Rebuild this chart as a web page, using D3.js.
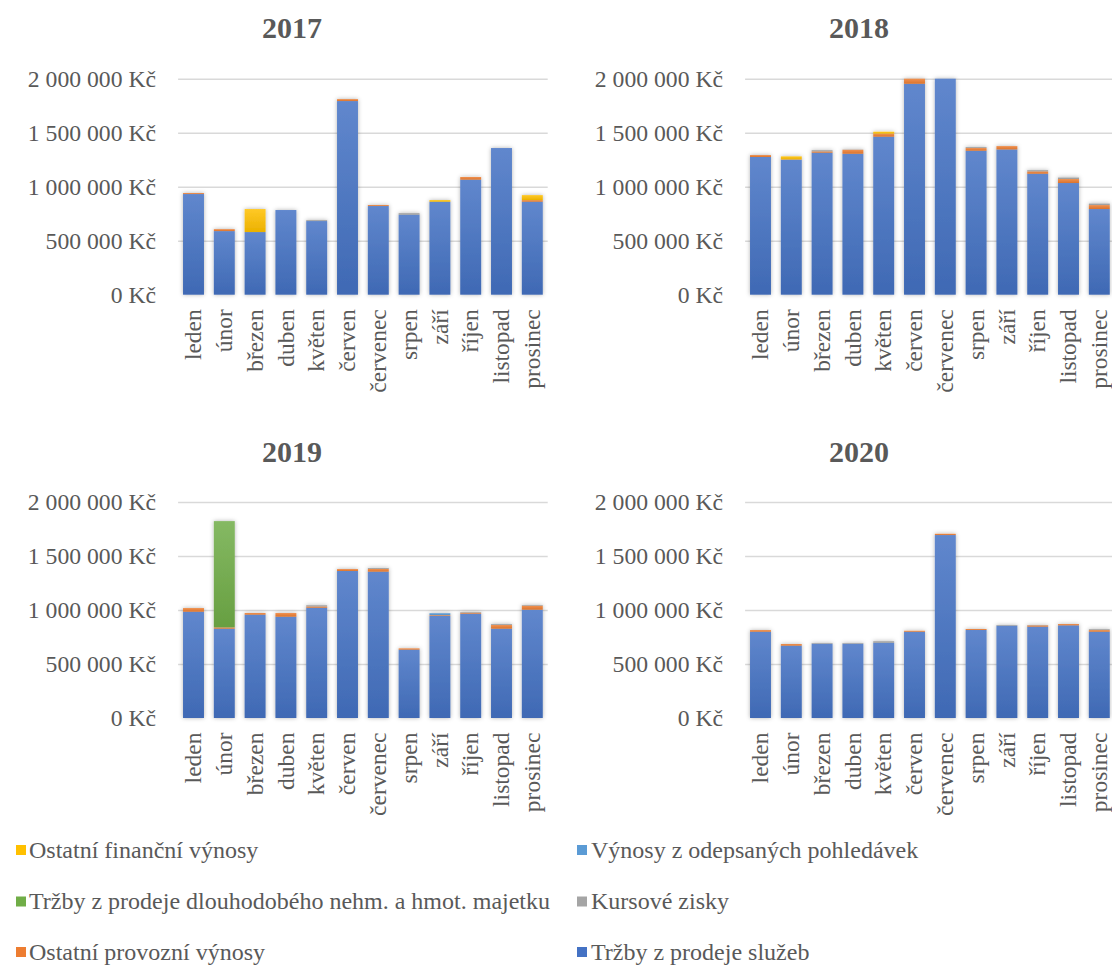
<!DOCTYPE html>
<html><head><meta charset="utf-8">
<script src="https://cdn.jsdelivr.net/npm/d3@7"></script>
<style>
html,body{margin:0;padding:0;background:#fff;overflow:hidden;}
</style></head>
<body><svg id="c" width="1112" height="965"></svg>
<script>
const months = ["leden","únor","březen","duben","květen","červen","červenec","srpen","září","říjen","listopad","prosinec"];
const years = ["2017","2018","2019","2020"];
const seriesNames = ["Tržby z prodeje služeb","Ostatní provozní výnosy","Kursové zisky","Tržby z prodeje dlouhodobého nehm. a hmot. majetku","Výnosy z odepsaných pohledávek","Ostatní finanční výnosy"];
const seriesColors = ["#4472C4","#ED7D31","#A5A5A5","#70AD47","#5B9BD5","#FFC000"];
const yTicks = [0, 500000, 1000000, 1500000, 2000000];

// 2017
const sluzby2017 = [932000,589000,580000,784000,682000,1793000,821000,741000,861000,1065000,1358000,861000];
const provozni2017 = [9000,18000,0,0,0,18000,9000,0,0,25000,0,15000];
const kursove2017 = [0,0,0,0,9000,0,0,15000,0,0,0,0];
const majetek2017 = [0,0,0,0,0,0,0,0,0,0,0,0];
const pohledavky2017 = [0,0,0,0,0,0,0,0,0,0,0,0];
const financni2017 = [0,0,213000,0,0,0,0,0,15000,0,0,46000];
// 2018
const sluzby2018 = [1275000,1250000,1315000,1305000,1463000,1953000,2030000,1333000,1345000,1120000,1034000,793000];
const provozni2018 = [18000,3000,12000,37000,28000,55000,0,25000,31000,22000,37000,37000];
const kursove2018 = [0,0,12000,3000,0,0,0,9000,0,12000,15000,15000];
const majetek2018 = [0,0,0,0,0,0,0,0,0,0,0,0];
const pohledavky2018 = [0,0,0,0,0,0,0,0,0,0,0,0];
const financni2018 = [0,28000,0,0,18000,0,0,0,0,0,0,0];
// 2019
const sluzby2019 = [984000,827000,957000,938000,1021000,1361000,1355000,633000,947000,966000,827000,1003000];
const provozni2019 = [34000,12000,15000,34000,12000,18000,25000,12000,6000,9000,34000,37000];
const kursove2019 = [0,0,0,0,12000,0,9000,0,0,6000,9000,6000];
const majetek2019 = [0,984000,0,0,0,0,0,0,0,0,0,0];
const pohledavky2019 = [0,0,0,0,0,0,0,0,18000,0,0,0];
const financni2019 = [0,0,0,0,0,0,0,0,0,0,0,0];
// 2020
const sluzby2020 = [799000,670000,688000,688000,697000,799000,1694000,815000,855000,846000,858000,799000];
const provozni2020 = [15000,15000,0,0,0,9000,12000,9000,0,12000,12000,15000];
const kursove2020 = [0,0,6000,6000,15000,0,0,0,6000,3000,0,9000];
const majetek2020 = [0,0,0,0,0,0,0,0,0,0,0,0];
const pohledavky2020 = [0,0,0,0,0,0,0,0,0,0,0,0];
const financni2020 = [0,0,0,0,0,0,0,0,0,0,0,0];

const yearSeries = [
  [sluzby2017,provozni2017,kursove2017,majetek2017,pohledavky2017,financni2017],
  [sluzby2018,provozni2018,kursove2018,majetek2018,pohledavky2018,financni2018],
  [sluzby2019,provozni2019,kursove2019,majetek2019,pohledavky2019,financni2019],
  [sluzby2020,provozni2020,kursove2020,majetek2020,pohledavky2020,financni2020]
];

const FONT = "Liberation Serif";
const TXT = "#595959";
const svg = d3.select("#c");
const defs = svg.append("defs");
const f = defs.append("filter").attr("id","sh").attr("x","-30%").attr("y","-10%").attr("width","160%").attr("height","120%");
f.append("feDropShadow").attr("dx",0).attr("dy",0).attr("stdDeviation",2).attr("flood-color","#000").attr("flood-opacity",0.3);
const f2 = defs.append("filter").attr("id","sh2").attr("x","-5%").attr("y","-300%").attr("width","110%").attr("height","700%");
f2.append("feDropShadow").attr("dx",0).attr("dy",1).attr("stdDeviation",1.2).attr("flood-color","#000").attr("flood-opacity",0.35);

seriesColors.forEach((c,i)=>{
  const g = defs.append("linearGradient").attr("id","g"+i).attr("x1",0).attr("y1",0).attr("x2",0).attr("y2",1);
  g.append("stop").attr("offset","0%").attr("stop-color", d3.interpolateRgb(c,"#fff")(0.15));
  g.append("stop").attr("offset","100%").attr("stop-color", d3.interpolateRgb(c,"#000")(0.08));
});

const loc = d3.formatLocale({decimal:",", thousands:"\u00a0", grouping:[3], currency:["","\u00a0Kč"]});
const fmt = v => loc.format(",")(v) + "\u00a0Kč";

const plotW = 369.6, plotH = 216;
const origins = [[178.1,78.7],[745.1,78.7],[178.1,502],[745.1,502]];
const titlePos = [[292,38],[859,38],[292,462],[859,462]];

const x = d3.scaleBand().domain(months).range([0,plotW]).paddingInner(0.32).paddingOuter(0.16);
const y = d3.scaleLinear().domain([0,2000000]).range([plotH,0]).clamp(true);

function styleText(sel, size){
  sel.attr("font-family",FONT).style("font-family",FONT).style("font-size",size).attr("fill",TXT).style("fill",TXT);
}

years.forEach((yr,yi)=>{
  const g = svg.append("g").attr("transform",`translate(${origins[yi][0]},${origins[yi][1]})`);
  const t = svg.append("text").attr("x",titlePos[yi][0]).attr("y",titlePos[yi][1]).attr("text-anchor","middle")
    .style("font-weight","bold").text(yr);
  styleText(t,"30px");

  const ya = g.append("g").call(d3.axisLeft(y).tickValues(yTicks).tickSize(-plotW).tickPadding(22).tickFormat(fmt));
  ya.attr("font-family",FONT);
  ya.select(".domain").remove();
  ya.selectAll("line").attr("stroke","#D9D9D9").attr("stroke-width",1.6);
  ya.selectAll(".tick").filter(d=>d===0).select("line").remove();
  styleText(ya.selectAll("text"),"23.7px");

  const rows = months.map((m,i)=>{const o={month:m}; seriesNames.forEach((s,k)=>o[s]=yearSeries[yi][k][i]); return o;});
  const stacked = d3.stack().keys(seriesNames)(rows);
  const bars = g.append("g").attr("filter","url(#sh)");
  stacked.forEach((layer,k)=>{
    bars.selectAll(null).data(layer.filter(d=>d[1]-d[0]>0)).join("rect")
      .attr("x",d=>x(d.data.month)).attr("width",x.bandwidth())
      .attr("y",d=>y(d[1])).attr("height",d=>Math.max(0,y(d[0])-y(d[1])))
      .attr("fill",`url(#g${k})`);
  });

  g.append("line").attr("x1",0).attr("x2",plotW).attr("y1",plotH+0.5).attr("y2",plotH+0.5)
    .attr("stroke","#BFBFBF").attr("stroke-width",1.5).attr("filter","url(#sh2)");

  const xa = g.append("g").attr("transform",`translate(0,${plotH})`).call(d3.axisBottom(x).tickSize(0));
  xa.attr("font-family",FONT);
  xa.select(".domain").remove();
  xa.selectAll("text").attr("transform","rotate(-90)").attr("x",-14.5).attr("y",0).attr("dy","0.33em")
    .attr("text-anchor","end");
  styleText(xa.selectAll("text"),"23.5px");
});

// legend
const legendOrder = [5,4,3,2,1,0];
const legCols = [[16,29],[577,591]];
const legRows = [850,901.5,952];
legendOrder.forEach((si,i)=>{
  const col = legCols[i%2], row = legRows[Math.floor(i/2)];
  const lg = svg.append("g");
  lg.append("rect").attr("x",col[0]).attr("y",row-5).attr("width",10).attr("height",10).attr("fill",seriesColors[si]);
  const t = lg.append("text").attr("x",col[1]).attr("y",row).attr("dy","0.33em").text(seriesNames[si]);
  styleText(t,"24px");
});
</script></body></html>
